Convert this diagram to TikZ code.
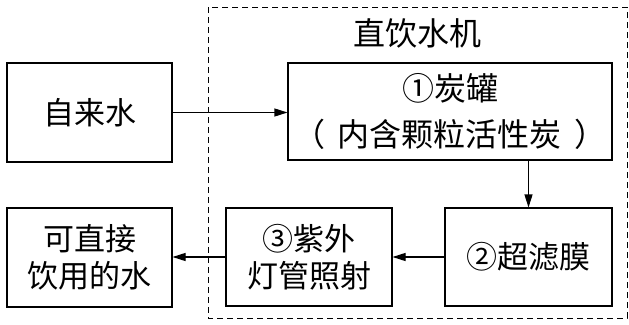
\documentclass[tikz,border=0pt]{standalone}
\usepackage{fontspec}
\setmainfont{Noto Sans CJK SC}
\usetikzlibrary{arrows.meta}
\tikzset{
  box/.style={draw, line width=1.1pt, inner sep=0pt, align=center, font=\fontsize{31}{37}\selectfont},
  flow/.style={line width=1.1pt, -{Triangle[length=13pt,width=8pt]}},
}
\begin{document}
\begin{tikzpicture}[x=1pt,y=-1pt]
\useasboundingbox (0,0) rectangle (629,324);
\draw[dashed, line width=1pt, dash pattern=on 6pt off 4pt] (208,7) rectangle (627,318);
\node[font=\fontsize{32}{37}\selectfont] (title) at (417,33) {直饮水机};
\node[box, minimum width=165pt, minimum height=99pt] (src) at (89.5,112.5) {自来水};
\node[box, font=\fontsize{32}{46}\selectfont, minimum width=324pt, minimum height=97pt] (tank) at (450,111.5) {①炭罐\\（\hspace{13pt}内含颗粒活性炭\hspace{13pt}）};
\node[box, minimum width=167pt, minimum height=98pt] (uf) at (528.5,257) {②超滤膜};
\node[box, minimum width=166pt, minimum height=98pt] (uv) at (309,257) {③紫外\\灯管照射};
\node[box, minimum width=165pt, minimum height=99pt] (out) at (89.5,257.5) {可直接\\饮用的水};
\draw[flow] (src.east) -- (tank.west |- src.east);
\draw[flow] (uf.north |- tank.south) -- (uf.north);
\draw[flow] (uf.west) -- (uv.east);
\draw[flow] (uv.west) -- (out.east |- uv.west);
\end{tikzpicture}
\end{document}
